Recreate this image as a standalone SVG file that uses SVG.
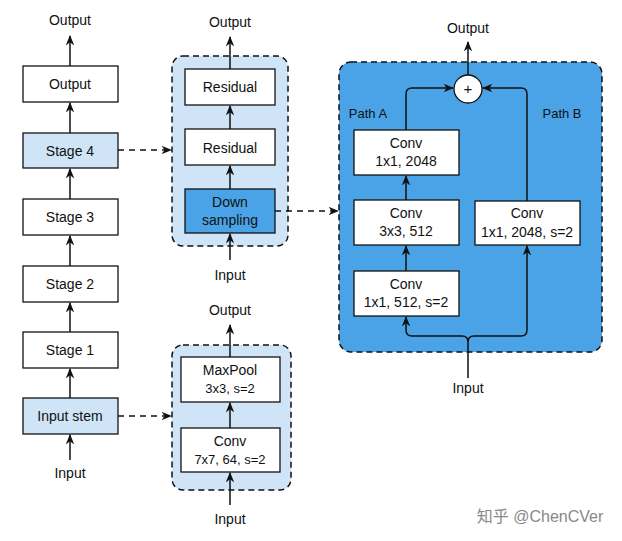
<svg xmlns="http://www.w3.org/2000/svg" width="622" height="541" viewBox="0 0 622 541">
<defs>
<marker id="ah" viewBox="0 0 10 10" refX="9" refY="5" markerWidth="7" markerHeight="7" orient="auto-start-reverse"><path d="M0,1 L10,5 L0,9 L3,5 Z" fill="#111"/></marker>
<style>
text{font-family:"Liberation Sans",Arial,sans-serif;font-size:14px;fill:#111;text-anchor:middle}
.b{fill:#fff;stroke:#111;stroke-width:1.3}
.l{fill:#d0e4f8;stroke:#111;stroke-width:1.3}
.d{fill:#4aa3e6;stroke:#111;stroke-width:1.3}
.c{stroke:#111;stroke-width:1.5;fill:none;marker-end:url(#ah)}
.dash{stroke:#111;stroke-width:1.5;fill:none;stroke-dasharray:6,5;marker-end:url(#ah)}
.cont{stroke:#111;stroke-width:1.5;stroke-dasharray:6,4}
</style>
</defs>
<g id="containers">
<rect x="172" y="56" width="116" height="190" rx="11" class="cont" fill="#d0e4f8"/>
<rect x="172" y="345" width="119" height="145" rx="11" class="cont" fill="#d0e4f8"/>
<rect x="339" y="62" width="263" height="290" rx="12" class="cont" fill="#4aa3e6"/>
</g>
<g id="left">
<g id="n-output"><rect x="23" y="66" width="95" height="36" class="b"/><text x="70" y="89">Output</text></g>
<g id="n-stage4"><rect x="23" y="133" width="95" height="35" class="l"/><text x="70" y="156">Stage 4</text></g>
<g id="n-stage3"><rect x="23" y="199" width="95" height="36" class="b"/><text x="70" y="222">Stage 3</text></g>
<g id="n-stage2"><rect x="23" y="266" width="95" height="36" class="b"/><text x="70" y="289">Stage 2</text></g>
<g id="n-stage1"><rect x="23" y="332" width="95" height="36" class="b"/><text x="70" y="355">Stage 1</text></g>
<g id="n-stem"><rect x="23" y="398" width="95" height="36" class="l"/><text x="70" y="421">Input stem</text></g>
<text x="70" y="25">Output</text>
<text x="70" y="478">Input</text>
</g>
<g id="mid">
<g id="n-res1"><rect x="185" y="69" width="90" height="36" class="b"/><text x="230" y="92">Residual</text></g>
<g id="n-res2"><rect x="185" y="129" width="90" height="36" class="b"/><text x="230" y="153">Residual</text></g>
<g id="n-down"><rect x="185" y="189" width="90" height="44" class="d"/><text x="230" y="207">Down</text><text x="230" y="225">sampling</text></g>
<text x="230" y="27">Output</text>
<text x="230" y="280">Input</text>
<g id="n-maxpool"><rect x="181" y="357" width="99" height="45" class="b"/><text x="230" y="375">MaxPool</text><text x="230" y="393" style="font-size:13px">3x3, s=2</text></g>
<g id="n-conv7"><rect x="181" y="428" width="99" height="44" class="b"/><text x="230" y="446">Conv</text><text x="230" y="464" style="font-size:13px">7x7, 64, s=2</text></g>
<text x="230" y="315">Output</text>
<text x="230" y="524">Input</text>
</g>
<g id="right">
<g id="n-plus"><circle cx="468" cy="89" r="14" fill="#fff" stroke="#111" stroke-width="1.3"/><text x="468" y="94" style="font-size:15px">+</text></g>
<text x="468" y="33">Output</text>
<text x="368" y="118" style="font-size:13px">Path A</text>
<text x="562" y="118" style="font-size:13px">Path B</text>
<g id="n-c1"><rect x="354" y="130" width="105" height="45" class="b"/><text x="406" y="148">Conv</text><text x="406" y="166">1x1, 2048</text></g>
<g id="n-c2"><rect x="354" y="200" width="105" height="45" class="b"/><text x="406" y="218">Conv</text><text x="406" y="236">3x3, 512</text></g>
<g id="n-c3"><rect x="354" y="271" width="105" height="45" class="b"/><text x="406" y="289">Conv</text><text x="406" y="307">1x1, 512, s=2</text></g>
<g id="n-cb"><rect x="475" y="201" width="105" height="44" class="b"/><text x="527" y="218">Conv</text><text x="527" y="237">1x1, 2048, s=2</text></g>
<text x="468" y="393">Input</text>
</g>
<g id="connectors">
<line x1="70" y1="66" x2="70" y2="36" class="c"/>
<line x1="70" y1="133" x2="70" y2="103" class="c"/>
<line x1="70" y1="199" x2="70" y2="169" class="c"/>
<line x1="70" y1="266" x2="70" y2="236" class="c"/>
<line x1="70" y1="332" x2="70" y2="303" class="c"/>
<line x1="70" y1="398" x2="70" y2="369" class="c"/>
<line x1="70" y1="460" x2="70" y2="435" class="c"/>
<line x1="230" y1="69" x2="230" y2="37" class="c"/>
<line x1="230" y1="129" x2="230" y2="106" class="c"/>
<line x1="230" y1="189" x2="230" y2="166" class="c"/>
<line x1="230" y1="260" x2="230" y2="234" class="c"/>
<line x1="230" y1="357" x2="230" y2="325" class="c"/>
<line x1="230" y1="428" x2="230" y2="403" class="c"/>
<line x1="230" y1="505" x2="230" y2="473" class="c"/>
<line x1="118" y1="150" x2="171" y2="150" class="dash"/>
<line x1="118" y1="416" x2="171" y2="416" class="dash"/>
<line x1="275" y1="211" x2="338" y2="211" class="dash"/>
<line x1="468" y1="75" x2="468" y2="42" class="c"/>
<path d="M406,130 V94 Q406,88 412,88 H453" class="c"/>
<path d="M527,201 V94 Q527,88 521,88 H483" class="c"/>
<line x1="406" y1="271" x2="406" y2="246" class="c"/>
<line x1="406" y1="200" x2="406" y2="176" class="c"/>
<path d="M468,378 V342 Q468,336 462,336 H412 Q406,336 406,330 V317" class="c"/>
<path d="M468,342 Q468,336 474,336 H521 Q527,336 527,330 V246" class="c"/>
</g>
<text x="540" y="522" style="font-family:'Liberation Sans','Noto Sans CJK SC',sans-serif;font-size:16px;fill:#888">知乎 @ChenCVer</text>
</svg>
